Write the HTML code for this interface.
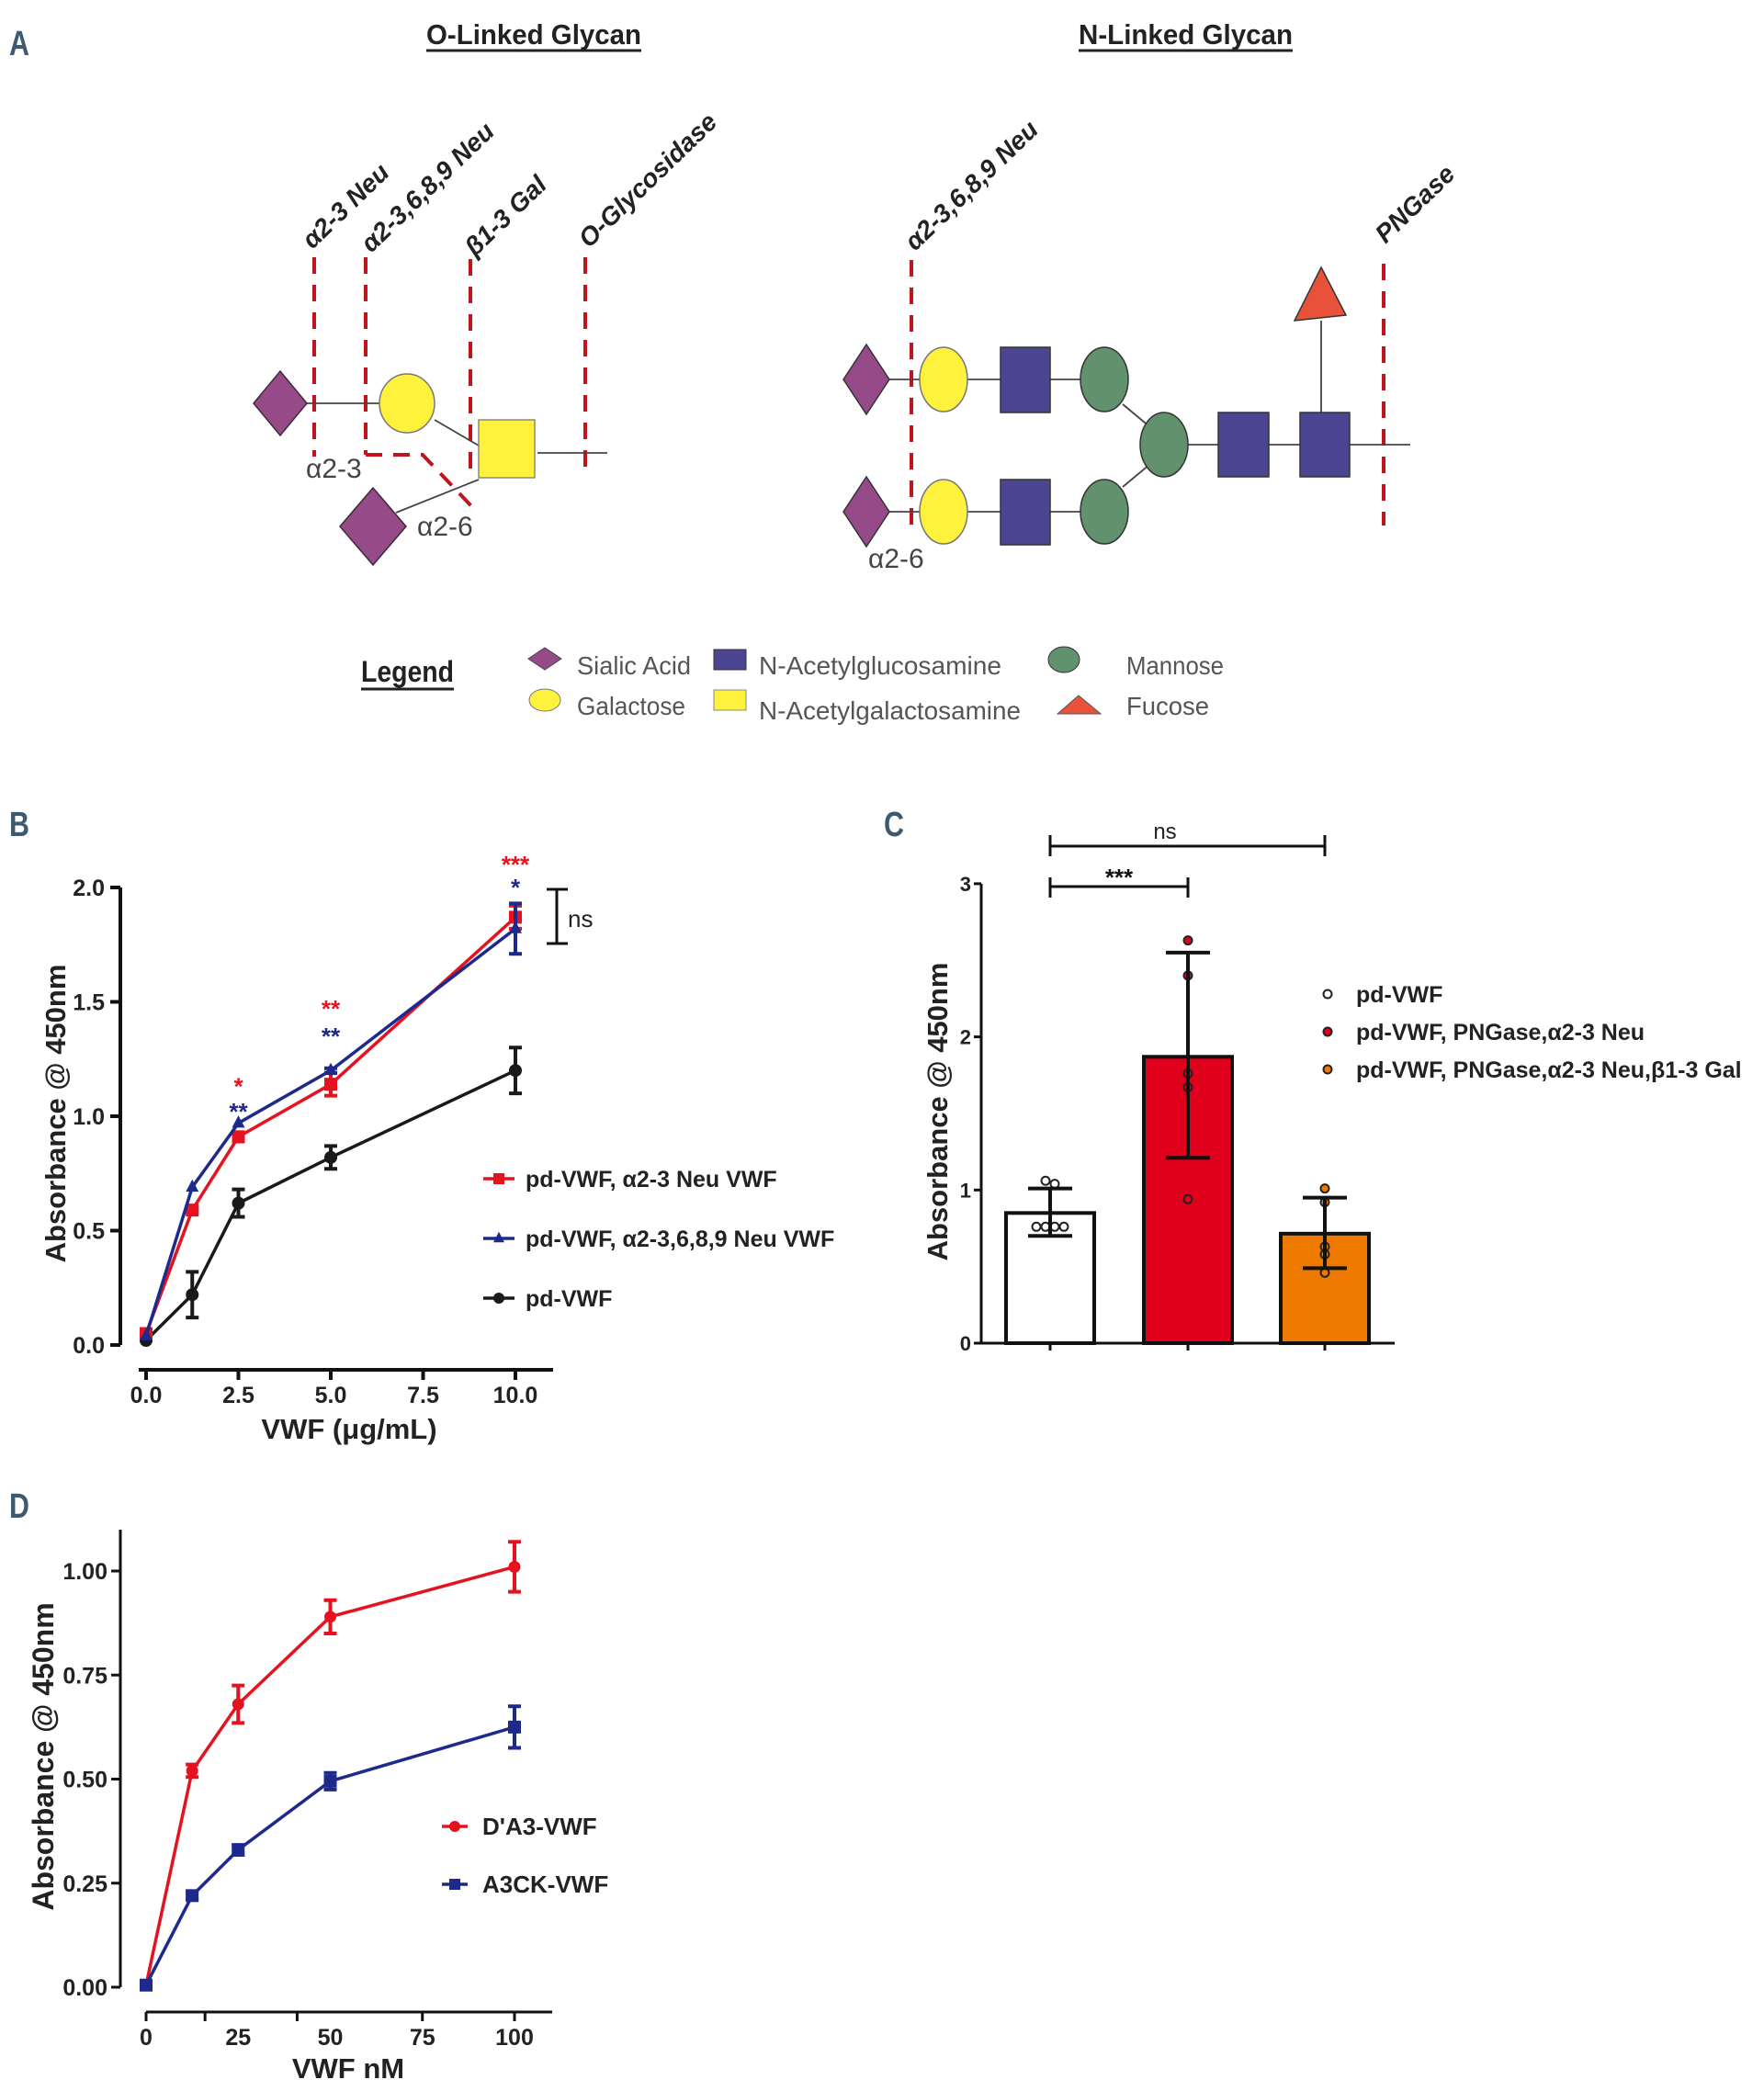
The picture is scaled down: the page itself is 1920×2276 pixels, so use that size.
<!DOCTYPE html>
<html><head><meta charset="utf-8">
<style>
html,body{margin:0;padding:0;background:#fff;}
svg{display:block;}
text{font-family:"Liberation Sans",sans-serif;}
.panel-letter{font-family:"Liberation Sans Narrow","Liberation Sans",sans-serif;font-size:38px;font-weight:bold;fill:#3e5a70;}
.ax{font-weight:bold;fill:#222;}
</style></head>
<body>
<svg id="fig" width="1920" height="2276" viewBox="0 0 1920 2276" xmlns="http://www.w3.org/2000/svg">
<rect width="1920" height="2276" fill="#fff"/>
<!-- Panel A -->
<g>
<text class="panel-letter" x="10" y="60" textLength="22" lengthAdjust="spacingAndGlyphs">A</text>
<text x="464" y="48" font-size="31" font-weight="bold" fill="#222" textLength="234" lengthAdjust="spacingAndGlyphs">O-Linked Glycan</text>
<line x1="464" y1="55" x2="698" y2="55" stroke="#222" stroke-width="3"/>
<text x="1174" y="48" font-size="31" font-weight="bold" fill="#222" textLength="233" lengthAdjust="spacingAndGlyphs">N-Linked Glycan</text>
<line x1="1174" y1="55" x2="1407" y2="55" stroke="#222" stroke-width="3"/>

<g fill="none" stroke="#c0151f" stroke-width="4" stroke-dasharray="18,12">
<line x1="342" y1="280" x2="342" y2="497"/>
<line x1="398" y1="280" x2="398" y2="495"/>
<polyline points="398,495 460,495 517,555"/>
<line x1="512" y1="282" x2="512" y2="520"/>
<line x1="637" y1="280" x2="637" y2="515"/>
<line x1="992" y1="283" x2="992" y2="573"/>
<line x1="1506" y1="287" x2="1506" y2="572"/>
</g>
<g font-size="28" font-weight="bold" font-style="italic" fill="#222">
<text transform="translate(340,272) rotate(-44)">α2-3 Neu</text>
<text transform="translate(404,276) rotate(-44)">α2-3,6,8,9 Neu</text>
<text transform="translate(517,280) rotate(-44)">β1-3 Gal</text>
<text transform="translate(641,271) rotate(-44)">O-Glycosidase</text>
<text transform="translate(996,274) rotate(-44)">α2-3,6,8,9 Neu</text>
<text transform="translate(1508,266) rotate(-44)">PNGase</text>
</g>
<g stroke="#444" stroke-width="1.8">
<line x1="333" y1="439" x2="413" y2="439"/>
<line x1="473" y1="457" x2="521" y2="485"/>
<line x1="431" y1="558" x2="521" y2="522"/>
<line x1="585" y1="493" x2="661" y2="493"/>
</g>
<g stroke="#3a2a3a" stroke-width="1.5">
<polygon points="276,439 305,404 334,439 305,474" fill="#974a88"/>
<ellipse cx="443" cy="439" rx="30" ry="32" fill="#fff23c" stroke="#777"/>
<rect x="521" y="457" width="61" height="63" fill="#fff23c" stroke="#888"/>
<polygon points="370,573 406,531 442,573 406,615" fill="#974a88"/>
</g>
<text x="333" y="520" font-size="30" fill="#444">α2-3</text>
<text x="454" y="583" font-size="30" fill="#444">α2-6</text>

<g stroke="#444" stroke-width="1.8">
<line x1="968" y1="413" x2="1202" y2="413"/>
<line x1="968" y1="557" x2="1202" y2="557"/>
<line x1="1222" y1="440" x2="1252" y2="465"/>
<line x1="1222" y1="530" x2="1252" y2="505"/>
<line x1="1267" y1="484" x2="1535" y2="484"/>
<line x1="1438" y1="349" x2="1438" y2="449"/>
</g>
<g stroke="#333" stroke-width="1.5">
<polygon points="918,413 943,375 968,413 943,451" fill="#974a88"/>
<polygon points="918,557 943,519 968,557 943,595" fill="#974a88"/>
<ellipse cx="1027" cy="413" rx="26" ry="35" fill="#fff23c" stroke="#777"/>
<ellipse cx="1027" cy="557" rx="26" ry="35" fill="#fff23c" stroke="#777"/>
<rect x="1089" y="378" width="54" height="71" fill="#4c4591"/>
<rect x="1089" y="522" width="54" height="71" fill="#4c4591"/>
<ellipse cx="1202" cy="413" rx="26" ry="35" fill="#62926d"/>
<ellipse cx="1202" cy="557" rx="26" ry="35" fill="#62926d"/>
<ellipse cx="1267" cy="484" rx="26" ry="35" fill="#62926d"/>
<rect x="1326" y="449" width="55" height="70" fill="#4c4591"/>
<rect x="1415" y="449" width="54" height="70" fill="#4c4591"/>
<polygon points="1438,291 1465,343 1409,349" fill="#e8513a"/>
</g>
<text x="945" y="618" font-size="30" fill="#444">α2-6</text>

<g>
<text x="393" y="742" font-size="32" font-weight="bold" fill="#222" textLength="101" lengthAdjust="spacingAndGlyphs">Legend</text>
<line x1="393" y1="750" x2="494" y2="750" stroke="#222" stroke-width="3"/>
<polygon points="575,717 593,705 611,717 593,729" fill="#974a88" stroke="#444"/>
<ellipse cx="593" cy="762" rx="17" ry="12" fill="#fff23c" stroke="#777"/>
<rect x="777" y="707" width="35" height="22" fill="#4c4591" stroke="#333"/>
<rect x="777" y="751" width="35" height="22" fill="#fff23c" stroke="#888"/>
<ellipse cx="1158" cy="718" rx="17" ry="14" fill="#62926d" stroke="#333"/>
<polygon points="1174,757 1198,777 1151,777" fill="#e8513a" stroke="#555"/>
<g font-size="28" fill="#555">
<text x="628" y="734" textLength="124" lengthAdjust="spacingAndGlyphs">Sialic Acid</text>
<text x="628" y="778" textLength="118" lengthAdjust="spacingAndGlyphs">Galactose</text>
<text x="826" y="734" textLength="264" lengthAdjust="spacingAndGlyphs">N-Acetylglucosamine</text>
<text x="826" y="783" textLength="285" lengthAdjust="spacingAndGlyphs">N-Acetylgalactosamine</text>
<text x="1226" y="734" textLength="106" lengthAdjust="spacingAndGlyphs">Mannose</text>
<text x="1226" y="778" textLength="90" lengthAdjust="spacingAndGlyphs">Fucose</text>
</g>
</g>
</g>

<text class="panel-letter" x="10" y="910" textLength="22" lengthAdjust="spacingAndGlyphs">B</text>
<text class="panel-letter" x="962" y="910" textLength="22" lengthAdjust="spacingAndGlyphs">C</text>
<text class="panel-letter" x="10" y="1652" textLength="22" lengthAdjust="spacingAndGlyphs">D</text>
<g id="chartB"></g>
<g id="chartC"></g>
<g id="chartD"></g>
</svg>
<script>
// ---- Chart B data ----
const bX = [0, 1.25, 2.5, 5, 10];
const bRed = [0.05, 0.59, 0.91, 1.14, 1.87];
const bRedErr = [0, 0.01, 0.02, 0.05, 0.05];
const bBlue = [0.04, 0.69, 0.97, 1.20, 1.82];
const bBlueErr = [0, 0, 0, 0.01, 0.11];
const bBlack = [0.02, 0.22, 0.62, 0.82, 1.20];
const bBlackErr = [0, 0.10, 0.06, 0.05, 0.10];
const bYTicks = [0, 0.5, 1.0, 1.5, 2.0];
const bYTickLabels = ["0.0", "0.5", "1.0", "1.5", "2.0"];
const bXTicks = [0, 2.5, 5, 7.5, 10];
const bXTickLabels = ["0.0", "2.5", "5.0", "7.5", "10.0"];
const bLegend = ["pd-VWF, α2-3 Neu VWF", "pd-VWF, α2-3,6,8,9 Neu VWF", "pd-VWF"];
// ---- Chart C data ----
const cCats = ["pd-VWF", "pd-VWF, PNGase,α2-3 Neu", "pd-VWF, PNGase,α2-3 Neu,β1-3 Gal"];
const cMeans = [0.85, 1.87, 0.715];
const cErrLow = [0.70, 1.21, 0.49];
const cErrHigh = [1.01, 2.55, 0.95];
const cPts0 = [1.06, 1.04, 0.76, 0.76, 0.76, 0.76];
const cPts1 = [2.63, 2.40, 1.76, 1.67, 0.94];
const cPts2 = [1.01, 0.92, 0.63, 0.58, 0.46];
const cYTicks = [0, 1, 2, 3];
// ---- Chart D data ----
const dX = [0, 12.5, 25, 50, 100];
const dRed = [0.005, 0.52, 0.68, 0.89, 1.01];
const dRedErr = [0, 0.015, 0.045, 0.04, 0.06];
const dBlue = [0.005, 0.22, 0.33, 0.495, 0.625];
const dBlueErr = [0, 0.008, 0.012, 0.02, 0.05];
const dYTicks = [0, 0.25, 0.5, 0.75, 1.0];
const dYTickLabels = ["0.00", "0.25", "0.50", "0.75", "1.00"];
const dXTicks = [0, 25, 50, 75, 100];
const dLegend = ["D'A3-VWF", "A3CK-VWF"];

const NS = "http://www.w3.org/2000/svg";
function mk(tag, attrs, parent) {
  const e = document.createElementNS(NS, tag);
  for (const k in attrs) e.setAttribute(k, attrs[k]);
  parent.appendChild(e);
  return e;
}
function txt(str, attrs, parent) { const t = mk("text", attrs, parent); t.textContent = str; return t; }
function marker(kind, x, y, color, g, size) {
  let m;
  if (kind === "square") m = mk("rect", {x: x - size, y: y - size, width: size * 2, height: size * 2, fill: color}, g);
  else if (kind === "triangle") m = mk("polygon", {points: `${x},${y - size * 1.2} ${x + size},${y + size * 0.7} ${x - size},${y + size * 0.7}`, fill: color}, g);
  else m = mk("circle", {cx: x, cy: y, r: size, fill: color}, g);
  return m;
}
function series(g, xs, ys, errs, sx, sy, color, kind, name, size) {
  const sg = mk("g", {}, g);
  
  
  const pts = xs.map((x, i) => sx(x) + "," + sy(ys[i])).join(" ");
  const line = mk("polyline", {points: pts, fill: "none", stroke: color, "stroke-width": 3.5}, sg);
  
  
  xs.forEach((x, i) => {
    if (errs[i] > 0) {
      const e = mk("path", {d: `M${sx(x)},${sy(ys[i] - errs[i])}V${sy(ys[i] + errs[i])}M${sx(x) - 7},${sy(ys[i] - errs[i])}h14M${sx(x) - 7},${sy(ys[i] + errs[i])}h14`, stroke: color, "stroke-width": 4, fill: "none"}, sg);
      
      
    }
    const m = marker(kind, sx(x), sy(ys[i]), color, sg, size);
    
    
  });
}

// ===== Chart B =====
(function () {
  const g = document.getElementById("chartB");
  const sx = v => 159 + v * 40.2;
  const sy = v => 1464 - v * 249;
  const yAxis = mk("path", {d: `M131,${sy(2)}V${sy(0)}`, stroke: "#111", "stroke-width": 4}, g);
  
  
  bYTicks.forEach((v, i) => {
    mk("line", {x1: 120, x2: 131, y1: sy(v), y2: sy(v), stroke: "#111", "stroke-width": 4}, g);
    const t = txt(bYTickLabels[i], {x: 114, y: sy(v) + 9, "text-anchor": "end", "font-size": 25, class: "ax"}, g);
    
    
  });
  const xAxis = mk("line", {x1: 151, x2: 602, y1: 1491, y2: 1491, stroke: "#111", "stroke-width": 4}, g);
  
  
  bXTicks.forEach((v, i) => {
    mk("line", {x1: sx(v), x2: sx(v), y1: 1491, y2: 1502, stroke: "#111", "stroke-width": 4}, g);
    const t = txt(bXTickLabels[i], {x: sx(v), y: 1527, "text-anchor": "middle", "font-size": 25, class: "ax"}, g);
    
    
  });
  const xt = txt("VWF (μg/mL)", {x: 380, y: 1566, "text-anchor": "middle", "font-size": 31, class: "ax"}, g);
  
  
  const yt = txt("Absorbance @ 450nm", {x: 0, y: 0, transform: "translate(71,1212) rotate(-90)", "text-anchor": "middle", "font-size": 31, class: "ax"}, g);
  
  
  series(g, bX, bBlack, bBlackErr, sx, sy, "#1a1a1a", "circle", "series-pd-vwf", 7);
  series(g, bX, bRed, bRedErr, sx, sy, "#e5131f", "square", "series-a23-neu", 7);
  series(g, bX, bBlue, bBlueErr, sx, sy, "#1d2a8c", "triangle", "series-a23689-neu", 7);
  const stars = [[10, 2.12, "***", "#e5131f"], [10, 2.02, "*", "#1d2a8c"], [5, 1.49, "**", "#e5131f"], [5, 1.37, "**", "#1d2a8c"], [2.5, 1.15, "*", "#e5131f"], [2.5, 1.04, "**", "#1d2a8c"]];
  stars.forEach(s => {
    const t = txt(s[2], {x: sx(s[0]), y: sy(s[1]) + 14, "text-anchor": "middle", "font-size": 26, "font-weight": "bold", fill: s[3]}, g);
    
    
  });
  const ns = mk("path", {d: "M595,968h23M606,968V1027M595,1027h23", stroke: "#111", "stroke-width": 3, fill: "none"}, g);
  
  
  const nst = txt("ns", {x: 618, y: 1009, "font-size": 26, fill: "#222"}, g);
  
  
  const kinds = ["square", "triangle", "circle"], cols = ["#e5131f", "#1d2a8c", "#1a1a1a"], ly = [1283, 1348, 1413];
  bLegend.forEach((l, i) => {
    const lg = mk("g", {}, g);
    
    
    mk("line", {x1: 526, x2: 560, y1: ly[i], y2: ly[i], stroke: cols[i], "stroke-width": 3.5}, lg);
    marker(kinds[i], 543, ly[i], cols[i], lg, 6);
    txt(l, {x: 572, y: ly[i] + 9, "font-size": 25, class: "ax"}, lg);
  });
})();

// ===== Chart C =====
(function () {
  const g = document.getElementById("chartC");
  const sy = v => 1462 - v * 166.7;
  const cx = [1143, 1293, 1442];
  const fills = ["#ffffff", "#e0001c", "#ee7b00"];
  const yAxis = mk("path", {d: `M1068,${sy(3)}V${sy(0)}`, stroke: "#111", "stroke-width": 3}, g);
  
  
  cYTicks.forEach(v => {
    mk("line", {x1: 1060, x2: 1068, y1: sy(v), y2: sy(v), stroke: "#111", "stroke-width": 3}, g);
    const t = txt(String(v), {x: 1057, y: sy(v) + 8, "text-anchor": "end", "font-size": 22, class: "ax"}, g);
    
    
  });
  const xAxis = mk("line", {x1: 1062, x2: 1518, y1: sy(0), y2: sy(0), stroke: "#111", "stroke-width": 3}, g);
  
  
  const yt = txt("Absorbance @ 450nm", {x: 0, y: 0, transform: "translate(1031,1210) rotate(-90)", "text-anchor": "middle", "font-size": 31, class: "ax"}, g);
  
  
  const allPts = [cPts0, cPts1, cPts2];
  cMeans.forEach((m, i) => {
    mk("line", {x1: cx[i], x2: cx[i], y1: sy(0), y2: sy(0) + 8, stroke: "#111", "stroke-width": 3}, g);
    const b = mk("rect", {x: cx[i] - 48, y: sy(m), width: 96, height: sy(0) - sy(m), fill: fills[i], stroke: "#111", "stroke-width": 4}, g);
    
    
    const pts = allPts[i];
    pts.forEach((p, j) => {
      const same = pts.filter(q => Math.abs(q - p) < 0.03);
      const k = pts.slice(0, j).filter(q => Math.abs(q - p) < 0.03).length;
      const off = (k - (same.length - 1) / 2) * 10;
      const c = mk("circle", {cx: cx[i] + off, cy: sy(p), r: 4.5, fill: fills[i], stroke: "#222", "stroke-width": 2}, g);
      
      
    });
    const e = mk("path", {d: `M${cx[i]},${sy(cErrLow[i])}V${sy(cErrHigh[i])}M${cx[i] - 24},${sy(cErrLow[i])}h48M${cx[i] - 24},${sy(cErrHigh[i])}h48`, stroke: "#111", "stroke-width": 4, fill: "none"}, g);
    
    
  });
  const br1 = mk("path", {d: `M${cx[0]},955V977M${cx[0]},965H${cx[1]}M${cx[1]},955V977`, stroke: "#111", "stroke-width": 3, fill: "none"}, g);
  
  
  const s1 = txt("***", {x: 1218, y: 964, "text-anchor": "middle", "font-size": 26, "font-weight": "bold", fill: "#111"}, g);
  
  
  const br2 = mk("path", {d: `M${cx[0]},909V932M${cx[0]},921H${cx[2]}M${cx[2]},909V932`, stroke: "#111", "stroke-width": 3, fill: "none"}, g);
  
  
  const s2 = txt("ns", {x: 1268, y: 913, "text-anchor": "middle", "font-size": 24, fill: "#222"}, g);
  
  
  const ly = [1082, 1123, 1164];
  cCats.forEach((l, i) => {
    const lg = mk("g", {}, g);
    
    
    mk("circle", {cx: 1445, cy: ly[i], r: 4.5, fill: fills[i], stroke: "#222", "stroke-width": 2}, lg);
    txt(l, {x: 1476, y: ly[i] + 9, "font-size": 25, class: "ax"}, lg);
  });
})();

// ===== Chart D =====
(function () {
  const g = document.getElementById("chartD");
  const sx = v => 159 + v * 4.01;
  const sy = v => 2163 - v * 453;
  const yAxis = mk("line", {x1: 131, x2: 131, y1: 1665, y2: sy(0), stroke: "#111", "stroke-width": 3}, g);
  
  
  dYTicks.forEach((v, i) => {
    mk("line", {x1: 121, x2: 131, y1: sy(v), y2: sy(v), stroke: "#111", "stroke-width": 3}, g);
    const t = txt(dYTickLabels[i], {x: 117, y: sy(v) + 9, "text-anchor": "end", "font-size": 25, class: "ax"}, g);
    
    
  });
  const xAxis = mk("line", {x1: 159, x2: 601, y1: 2190, y2: 2190, stroke: "#111", "stroke-width": 3}, g);
  
  
  [0, 16, 41, 75, 100].forEach(v => mk("line", {x1: sx(v), x2: sx(v), y1: 2190, y2: 2200, stroke: "#111", "stroke-width": 3}, g));
  dXTicks.forEach(v => {
    const t = txt(String(v), {x: sx(v), y: 2226, "text-anchor": "middle", "font-size": 25, class: "ax"}, g);
    
    
  });
  const xt = txt("VWF nM", {x: 379, y: 2262, "text-anchor": "middle", "font-size": 31, class: "ax"}, g);
  
  
  const yt = txt("Absorbance @ 450nm", {x: 0, y: 0, transform: "translate(58,1912) rotate(-90)", "text-anchor": "middle", "font-size": 32, class: "ax"}, g);
  
  
  series(g, dX, dRed, dRedErr, sx, sy, "#e5131f", "circle", "series-da3-vwf", 6.5);
  series(g, dX, dBlue, dBlueErr, sx, sy, "#1d2a8c", "square", "series-a3ck-vwf", 7);
  const cols = ["#e5131f", "#1d2a8c"], kinds = ["circle", "square"], ly = [1988, 2051];
  dLegend.forEach((l, i) => {
    const lg = mk("g", {}, g);
    
    
    mk("line", {x1: 481, x2: 509, y1: ly[i], y2: ly[i], stroke: cols[i], "stroke-width": 3.5}, lg);
    marker(kinds[i], 495, ly[i], cols[i], lg, 6);
    txt(l, {x: 525, y: ly[i] + 9, "font-size": 26, class: "ax"}, lg);
  });
})();
</script>
</body></html>
